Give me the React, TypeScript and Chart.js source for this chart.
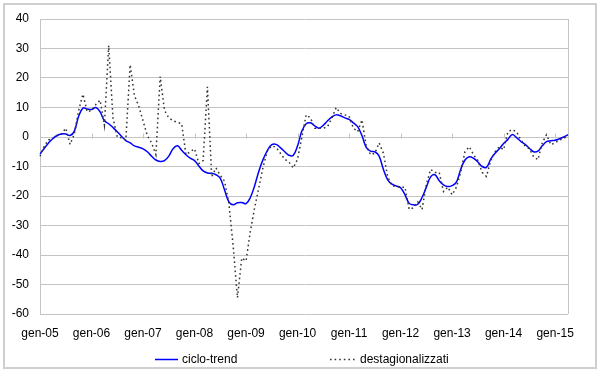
import React, { useEffect, useRef } from 'react';
import { Chart, registerables } from 'chart.js';

Chart.register(...registerables);

const monthNames = ['gen', 'feb', 'mar', 'apr', 'mag', 'giu', 'lug', 'ago', 'set', 'ott', 'nov', 'dic'];
const years = ['05', '06', '07', '08', '09', '10', '11', '12', '13', '14', '15'];
const lastYearMonths = 4; // gen-15 .. apr-15

const yTicks = [-60, -50, -40, -30, -20, -10, 0, 10, 20, 30, 40];

// ciclo-trend, monthly from gen-05
const cicloTrend = [
  -5.8, -3.8, -2.0, -0.5, 0.5, 1.0, 1.0, 0.5, 2.0, 7.0, 9.8, 9.5, // 2005
  9.3, 10.0, 8.5, 5.5, 4.5, 3.2, 1.8, 0.2, -1.2, -2.0, -3.0, -3.5, // 2006
  -4.0, -5.0, -6.5, -7.8, -8.3, -8.0, -6.5, -4.0, -3.0, -4.5, -6.0, -7.2, // 2007
  -8.0, -9.8, -11.5, -12.2, -12.3, -12.8, -14.0, -18.0, -22.0, -23.0, -22.3, -22.2, // 2008
  -22.6, -20.5, -16.5, -11.5, -7.5, -4.5, -2.6, -2.5, -3.6, -5.0, -6.2, -6.2, // 2009
  -3.0, 2.0, 4.5, 4.8, 3.8, 3.0, 4.0, 5.5, 6.8, 7.5, 7.2, 6.5, // 2010
  6.0, 4.8, 3.5, 0.5, -3.5, -4.8, -5.0, -6.5, -11.0, -14.5, -16.0, -16.6, // 2011
  -17.2, -19.5, -22.5, -23.0, -22.8, -20.5, -17.0, -13.5, -12.8, -14.8, -16.2, -16.8, // 2012
  -16.5, -15.3, -11.0, -7.8, -6.7, -7.2, -8.5, -10.0, -10.3, -7.5, -5.5, -4.0, // 2013
  -2.2, -0.8, 0.8, -0.2, -1.5, -2.5, -3.8, -5.0, -4.8, -3.0, -1.6, -1.3, // 2014
  -1.1, -0.6, 0.0, 0.8, // 2015
];

// destagionalizzati, monthly from gen-05
const destagionalizzati = [
  -6.5, -3.0, -1.0, -0.5, 0.5, 1.0, 3.0, -2.5, 1.0, 9.0, 14.5, 8.5, // 2005
  9.0, 11.0, 12.5, 4.0, 31.0, 6.5, 0.0, -0.3, -1.0, 24.5, 14.0, 10.5, // 2006
  5.5, 0.5, -2.0, -6.0, 20.5, 9.0, 6.5, 5.5, 5.0, 4.5, -6.0, -5.0, // 2007
  -4.0, -9.0, -8.0, 17.0, -13.5, -10.5, -13.0, -15.0, -22.5, -37.0, -54.5, -41.0, // 2008
  -42.0, -32.0, -24.0, -17.0, -10.0, -4.5, -3.0, -3.5, -5.5, -7.5, -8.5, -10.5, // 2009
  -7.5, 0.0, 7.5, 6.5, 3.0, 3.0, 3.0, 3.5, 6.5, 10.0, 8.0, 7.5, // 2010
  7.0, 3.0, 1.8, 5.8, -3.0, -6.0, -5.5, -2.0, -5.5, -13.5, -16.5, -16.8, // 2011
  -17.0, -17.0, -24.5, -24.0, -22.0, -24.6, -16.0, -11.0, -12.0, -12.0, -18.5, -17.0, // 2012
  -19.6, -17.0, -12.0, -5.0, -3.3, -6.0, -8.0, -12.0, -13.4, -8.0, -5.0, -3.3, // 2013
  -4.3, 1.8, 2.5, 1.8, -1.0, -3.0, -4.0, -6.7, -7.7, -2.0, 0.8, -2.6, // 2014
  -2.0, -1.0, -0.5, 0.5, // 2015
];

const seriesNames = ['ciclo-trend', 'destagionalizzati'];

const labels: string[] = [];
years.forEach((y, yi) => {
  const n = yi === years.length - 1 ? lastYearMonths : 12;
  for (let m = 0; m < n; m++) labels.push(`${monthNames[m]}-${y}`);
});

const FONT = "'Liberation Sans', Arial, sans-serif";
const GRID = '#c4c4c4';
const DOT_COLOR = '#333333';
const DOT_DASH = [1.6, 3];

const decorPlugin = {
  id: 'decor',
  beforeDraw(chart: any) {
    const ctx = chart.ctx;
    ctx.save();
    ctx.fillStyle = '#ffffff';
    ctx.fillRect(0, 0, chart.width, chart.height);
    ctx.strokeStyle = '#cfcfcf';
    ctx.lineWidth = 2;
    ctx.strokeRect(4, 4, 592, 364);
    ctx.restore();
  },
  beforeDatasetsDraw(chart: any) {
    const ctx = chart.ctx;
    const a = chart.chartArea;
    const xs = chart.scales.x;
    const ys = chart.scales.y;
    ctx.save();
    ctx.strokeStyle = GRID;
    ctx.lineWidth = 1;
    ctx.beginPath();
    ctx.moveTo(Math.round(a.right) + 0.5, a.top);
    ctx.lineTo(Math.round(a.right) + 0.5, a.bottom);
    ctx.stroke();
    const y0 = Math.round(ys.getPixelForValue(0)) + 0.5;
    ctx.beginPath();
    for (let i = 12; i < labels.length; i += 12) {
      const x = Math.round(xs.getPixelForValue(i)) + 0.5;
      ctx.moveTo(x, y0 - 4);
      ctx.lineTo(x, y0 + 1);
    }
    ctx.stroke();
    ctx.restore();
  },
  afterDraw(chart: any) {
    const ctx = chart.ctx;
    ctx.save();
    const ly = 359.5;
    ctx.lineWidth = 1.5;
    ctx.strokeStyle = '#0000ff';
    ctx.beginPath();
    ctx.moveTo(155, ly);
    ctx.lineTo(178, ly);
    ctx.stroke();
    ctx.strokeStyle = DOT_COLOR;
    ctx.setLineDash(DOT_DASH);
    ctx.beginPath();
    ctx.moveTo(330, ly);
    ctx.lineTo(357, ly);
    ctx.stroke();
    ctx.setLineDash([]);
    ctx.fillStyle = '#000000';
    ctx.font = `12px ${FONT}`;
    ctx.textBaseline = 'middle';
    ctx.textAlign = 'left';
    ctx.fillText(seriesNames[0], 182, ly);
    ctx.fillText(seriesNames[1], 360, ly);
    ctx.restore();
  },
};

export default function App() {
  const ref = useRef<HTMLCanvasElement | null>(null);

  useEffect(() => {
    if (!ref.current) return;
    const chart = new Chart(ref.current, {
      type: 'line',
      data: {
        labels,
        datasets: [
          {
            label: seriesNames[1],
            data: destagionalizzati,
            borderColor: DOT_COLOR,
            borderWidth: 1.5,
            borderDash: DOT_DASH,
            pointRadius: 0,
            tension: 0,
            fill: false,
          },
          {
            label: seriesNames[0],
            data: cicloTrend,
            borderColor: '#0000ff',
            borderWidth: 1.5,
            pointRadius: 0,
            tension: 0.4,
            fill: false,
          },
        ],
      },
      options: {
        animation: false,
        responsive: false,
        devicePixelRatio: 1,
        layout: { padding: { top: 19, right: 32, left: 0, bottom: 0 } },
        plugins: {
          legend: { display: false },
          tooltip: { enabled: false },
        },
        scales: {
          x: {
            type: 'category',
            offset: false,
            grid: { display: false, drawTicks: false },
            border: { display: false },
            ticks: {
              autoSkip: false,
              maxRotation: 0,
              minRotation: 0,
              padding: 12,
              color: '#000000',
              font: { family: FONT, size: 12 },
              callback: (_v: any, i: number) => (i % 12 === 0 ? labels[i] : ''),
            },
            afterFit: (s: any) => {
              s.height = 58;
            },
          },
          y: {
            min: -60,
            max: 40,
            afterBuildTicks: (s: any) => {
              s.ticks = yTicks.map((v) => ({ value: v }));
            },
            grid: { color: GRID, lineWidth: 1, drawTicks: false },
            border: { display: true, color: GRID, width: 1 },
            ticks: {
              padding: 11,
              color: '#000000',
              font: { family: FONT, size: 12 },
            },
            afterFit: (s: any) => {
              s.width = 40;
            },
          },
        },
      },
      plugins: [decorPlugin],
    });
    return () => chart.destroy();
  }, []);

  return (
    <div style={{ position: 'absolute', left: 0, top: 0, width: 600, height: 372 }}>
      <canvas ref={ref} width={600} height={372} style={{ width: 600, height: 372, display: 'block' }} />
    </div>
  );
}
